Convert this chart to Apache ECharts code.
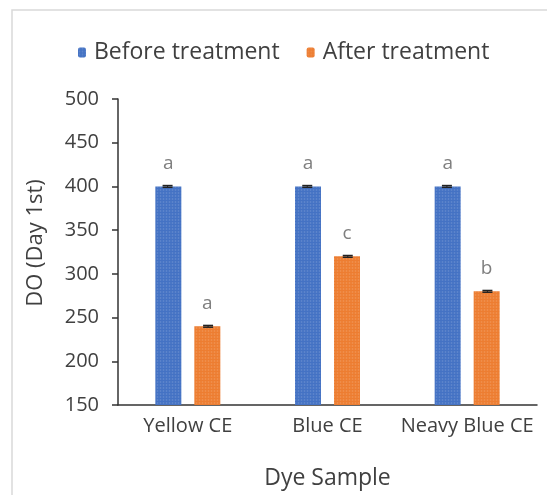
<!DOCTYPE html>
<html><head><meta charset="utf-8">
<script src="https://cdn.jsdelivr.net/npm/echarts@6/dist/echarts.min.js"></script>
<style>html,body{margin:0;padding:0;background:#fff}#c{width:547px;height:495px}</style>
</head><body><div id="c"></div>
<script>
const categories = ['Yellow CE', 'Blue CE', 'Neavy Blue CE'];
const beforeValues = [400, 400, 400];
const afterValues = [240, 320, 280];
const beforeErrors = [1, 1, 1];
const afterErrors = [1, 1, 1];
const beforeLetters = ['a', 'a', 'a'];
const afterLetters = ['a', 'c', 'b'];
const yTicks = [150, 200, 250, 300, 350, 400, 450, 500];

const font = 'Open Sans';
const chart = echarts.init(document.getElementById('c'));

function errSeries(vals, errs, idx) {
  return {
    type: 'custom',
    name: 'err' + idx,
    data: vals.map((v, i) => [i, v, errs[i]]),
    z: 10,
    silent: true,
    renderItem: function (params, api) {
      const i = api.value(0);
      const v = api.value(1), e = api.value(2);
      const hi = api.coord([i, v + e]);
      const lo = api.coord([i, v - e]);
      const bw = api.size([1, 0])[0];
      const off = (idx === 0 ? -1 : 1) * bw * 0.145;
      const x = hi[0] + off;
      const cap = 5;
      return { type: 'group', children: [
        { type: 'line', shape: { x1: x, y1: hi[1], x2: x, y2: lo[1] }, style: { stroke: '#222', lineWidth: 1 } },
        { type: 'line', shape: { x1: x - cap, y1: hi[1], x2: x + cap, y2: hi[1] }, style: { stroke: '#222', lineWidth: 1.5 } },
        { type: 'line', shape: { x1: x - cap, y1: lo[1], x2: x + cap, y2: lo[1] }, style: { stroke: '#222', lineWidth: 1.5 } }
      ]};
    }
  };
}

const decal = { symbol: 'rect', symbolSize: 0.5, dashArrayX: [3, 0], dashArrayY: [2, 1], color: 'rgba(255,255,255,0.25)' };

chart.setOption({
  animation: false,
  textStyle: { fontFamily: font },
  graphic: [{ type: 'rect', shape: { x: 12, y: 10, width: 560, height: 520 }, style: { fill: 'none', stroke: '#d9d9d9', lineWidth: 1.5 }, silent: true }],
  legend: {
    top: 36, left: 73,
    data: ['Before treatment', 'After treatment'],
    itemWidth: 8, itemHeight: 10, itemGap: 27,
    textStyle: { fontSize: 23, color: '#404040', fontFamily: font, padding: [0, 0, 0, 3] }
  },
  grid: { left: 118, right: 10, top: 99, bottom: 88 },
  xAxis: {
    type: 'category', data: categories,
    axisLine: { lineStyle: { color: '#333', width: 1.5 } },
    axisTick: { show: false },
    axisLabel: { fontSize: 20, color: '#404040', margin: 11, interval: 0, fontFamily: font },
    name: 'Dye Sample', nameLocation: 'middle', nameGap: 62,
    nameTextStyle: { fontSize: 23, color: '#404040', fontFamily: font }
  },
  yAxis: {
    type: 'value', min: 150, max: 500, interval: 50,
    axisLine: { show: true, lineStyle: { color: '#333', width: 1.5 } },
    axisTick: { show: true, length: 6, inside: false, lineStyle: { color: '#333', width: 1.5 } },
    splitLine: { show: false },
    axisLabel: { fontSize: 20, color: '#404040', margin: 19, fontFamily: font,
      formatter: v => yTicks.includes(v) ? String(v) : '' },
    name: 'DO (Day 1st)', nameLocation: 'middle', nameGap: 71, nameRotate: 90,
    nameTextStyle: { fontSize: 22, color: '#404040', fontFamily: font, padding: [0, 0, 0, 18] }
  },
  series: [
    { name: 'Before treatment', type: 'bar', data: beforeValues, barWidth: 26, barGap: '50%',
      itemStyle: { color: '#4472C4', decal: decal },
      label: { show: true, position: 'top', distance: 13, fontSize: 19, color: '#7f7f7f', fontFamily: font,
        formatter: p => beforeLetters[p.dataIndex] } },
    { name: 'After treatment', type: 'bar', data: afterValues, barWidth: 26,
      itemStyle: { color: '#ED7D31', decal: decal },
      label: { show: true, position: 'top', distance: 13, fontSize: 19, color: '#7f7f7f', fontFamily: font,
        formatter: p => afterLetters[p.dataIndex] } },
    errSeries(beforeValues, beforeErrors, 0),
    errSeries(afterValues, afterErrors, 1)
  ]
});
</script></body></html>
